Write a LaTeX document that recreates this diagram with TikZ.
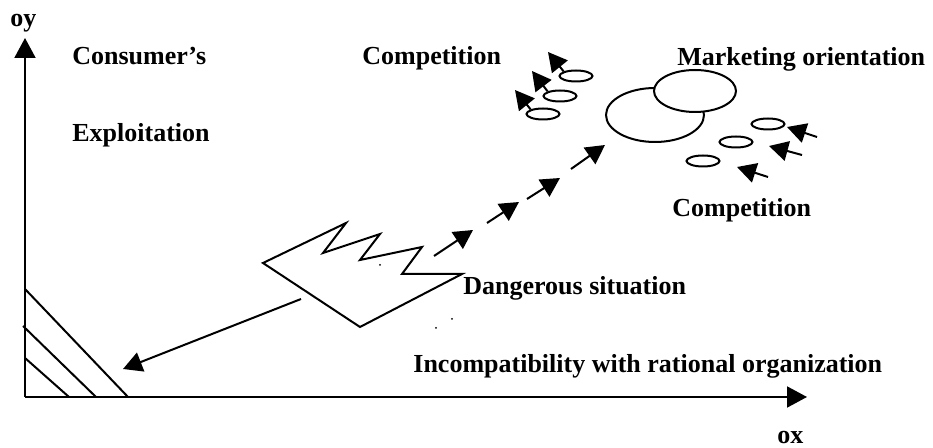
\documentclass[tikz,border=0pt]{standalone}
\usepackage{fontspec}
\setmainfont{Liberation Serif}
\usetikzlibrary{arrows.meta,shapes.geometric}
\tikzset{
  lbl/.style  = {font=\fontsize{13}{15}\selectfont\bfseries, inner sep=0pt,
                 anchor=base west},
  axis/.style = {line width=1pt, -{Triangle[length=10pt,width=10.5pt]}},
  ar/.style   = {line width=1pt, -{Triangle[length=9.5pt,width=10pt]}},
  shp/.style  = {line width=1pt, line join=miter},
  blob/.style = {draw, ellipse, line width=1pt, fill=white, inner sep=0pt},
  cell/.style = {blob, minimum width=16.5pt, minimum height=5.5pt},
}

\begin{document}
\begin{tikzpicture}[x=0.5pt, y=-0.5pt]
\useasboundingbox (0,0) rectangle (933,448);

% --- axes ---
\coordinate (O) at (25,397);
\coordinate (ytip) at (25,38);
\coordinate (xtip) at (807,397);
\draw[axis] (O) -- (ytip);
\draw[axis] (O) -- (xtip);
\node[lbl] (oy) at (10,27) {oy};
\node[lbl] (ox) at (777,444) {ox};

% hatching in the corner
\draw[shp] (25,289) -- (128,397);
\draw[shp] (23,326) -- (96,397);
\draw[shp] (25,358) -- (69,397);

% --- labels ---
\node[lbl] (cons) at (72,65) {Consumer’s};
\node[lbl] (expl) at (72,142) {Exploitation};
\node[lbl] (comp1) at (362,65) {Competition};
\node[lbl] (mark) at (677,66) {Marketing orientation};
\node[lbl] (comp2) at (672,217) {Competition};
\node[lbl] (dang) at (463,295) {Dangerous situation};
\node[lbl] (incomp) at (413,373) {Incompatibility with rational organization};

% --- dangerous situation shape ---
\draw[shp] (263,263) -- (346,223) -- (323,253) -- (380,234) -- (360,260)
     -- (422,247) -- (402,274) -- (462,274) -- (360,327) -- cycle;
\fill (380,265) circle (0.5pt) (452,319) circle (0.5pt) (436,328) circle (0.5pt);

\coordinate (fall) at (301,299);
\coordinate (corner) at (123,369);
\draw[ar] (fall) -- (corner);

% rising path
\foreach \ax/\ay/\bx/\by [count=\i] in
    {434/256/473/230, 487/223/519/202, 527/199/560/178, 571/169/605/145} {
  \coordinate (ds\i) at (\ax,\ay);
  \coordinate (de\i) at (\bx,\by);
  \draw[ar] (ds\i) -- (de\i);
}

% --- market ---
\node[blob, minimum width=49pt, minimum height=27pt] (big) at (655,115) {};
\node[blob, minimum width=41pt, minimum height=21pt] (top) at (695,91) {};

% competitors, upper left
\node[cell] (cl1) at (576,76) {};
\node[cell] (cl2) at (560,96) {};
\node[cell] (cl3) at (543,114) {};
\coordinate (tl1) at (548,52);
\coordinate (tl2) at (532,71);
\coordinate (tl3) at (515,90);
\foreach \i in {1,2,3}
  \draw[ar] (cl\i.north west) -- (tl\i);

% competitors, lower right
\node[cell] (cr1) at (768,124) {};
\node[cell] (cr2) at (736,142) {};
\node[cell] (cr3) at (703,161) {};
\coordinate (sr1) at (817,137);
\coordinate (sr2) at (802,155);
\coordinate (sr3) at (768,177);
\coordinate (tr1) at (787,127);
\coordinate (tr2) at (769,146);
\coordinate (tr3) at (737,167);
\foreach \i in {1,2,3}
  \draw[ar] (sr\i) -- (tr\i);
\end{tikzpicture}
\end{document}
